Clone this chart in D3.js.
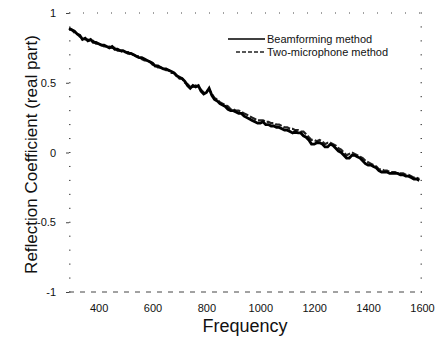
<!DOCTYPE html>
<html>
<head>
<meta charset="utf-8">
<script src="https://cdn.jsdelivr.net/npm/d3@7"></script>
<style>
  body { margin: 0; background: #fff; }
  svg { display: block; }
</style>
</head>
<body>
<div id="chart"></div>
<script>
// DATA (frequency sampled every 10 Hz, 290..1590)
var freq = d3.range(290, 1600, 10);
var beamforming = [0.89, 0.88, 0.87, 0.85, 0.84, 0.81, 0.82, 0.80, 0.81, 0.79,
  0.79, 0.78, 0.77, 0.77, 0.76, 0.75, 0.76, 0.74, 0.74, 0.73,
  0.73, 0.72, 0.71, 0.71, 0.70, 0.69, 0.68, 0.68, 0.67, 0.66,
  0.65, 0.64, 0.62, 0.62, 0.61, 0.60, 0.60, 0.59, 0.58, 0.57,
  0.55, 0.54, 0.53, 0.51, 0.48, 0.46, 0.48, 0.47, 0.48, 0.44,
  0.42, 0.43, 0.46, 0.41, 0.38, 0.37, 0.35, 0.34, 0.33, 0.31,
  0.30, 0.30, 0.29, 0.28, 0.28, 0.26, 0.25, 0.24, 0.23, 0.22,
  0.21, 0.21, 0.22, 0.20, 0.20, 0.19, 0.19, 0.18, 0.18, 0.17,
  0.16, 0.16, 0.15, 0.14, 0.15, 0.14, 0.14, 0.12, 0.11, 0.09,
  0.06, 0.06, 0.07, 0.07, 0.06, 0.04, 0.04, 0.06, 0.05, 0.03,
  0.01, 0.00, -0.02, -0.04, -0.04, -0.02, -0.02, -0.03, -0.04, -0.06,
  -0.08, -0.09, -0.09, -0.10, -0.11, -0.13, -0.14, -0.14, -0.14, -0.15,
  -0.15, -0.15, -0.15, -0.16, -0.16, -0.17, -0.17, -0.18, -0.19, -0.19,
  -0.20];
var twoMic = [0.88, 0.88, 0.86, 0.85, 0.83, 0.82, 0.81, 0.81, 0.80, 0.80,
  0.78, 0.78, 0.77, 0.76, 0.76, 0.76, 0.75, 0.75, 0.73, 0.73,
  0.72, 0.72, 0.72, 0.70, 0.70, 0.69, 0.69, 0.67, 0.66, 0.66,
  0.65, 0.63, 0.63, 0.61, 0.61, 0.60, 0.59, 0.59, 0.57, 0.57,
  0.55, 0.53, 0.53, 0.50, 0.49, 0.47, 0.47, 0.48, 0.47, 0.45,
  0.43, 0.44, 0.45, 0.42, 0.39, 0.38, 0.36, 0.35, 0.34, 0.33,
  0.31, 0.31, 0.30, 0.30, 0.29, 0.28, 0.27, 0.26, 0.25, 0.24,
  0.23, 0.23, 0.23, 0.22, 0.22, 0.21, 0.21, 0.20, 0.20, 0.19,
  0.18, 0.18, 0.17, 0.17, 0.16, 0.16, 0.15, 0.15, 0.13, 0.11,
  0.09, 0.09, 0.08, 0.09, 0.08, 0.06, 0.07, 0.07, 0.06, 0.05,
  0.03, 0.02, 0.00, -0.02, -0.01, 0.00, -0.01, -0.02, -0.03, -0.04,
  -0.06, -0.07, -0.08, -0.09, -0.10, -0.12, -0.12, -0.13, -0.13, -0.14,
  -0.14, -0.14, -0.15, -0.15, -0.15, -0.16, -0.16, -0.17, -0.18, -0.18,
  -0.19];
var xTicks = [400, 600, 800, 1000, 1200, 1400, 1600];
var yTicks = [-1, -0.5, 0, 0.5, 1];
var seriesNames = ["Beamforming method", "Two-microphone method"];

var fontFamily = "Arial, 'Liberation Sans', sans-serif";
var W = 438, H = 340;
var m = {left: 69, right: 16, top: 13, bottom: 48};

var svg = d3.select("#chart").append("svg")
  .attr("width", W).attr("height", H);

var x = d3.scaleLinear().domain([290, 1600]).range([m.left, W - m.right]);
var y = d3.scaleLinear().domain([-1, 1]).range([H - m.bottom, m.top]);

// frame (scanned look: dotted / dashed)
var frame = svg.append("g").attr("stroke", "#444").attr("fill", "none");
frame.append("line")
  .attr("x1", x(290)).attr("x2", x(1600)).attr("y1", y(1)).attr("y2", y(1))
  .attr("stroke-dasharray", "1,13");
frame.append("line")
  .attr("x1", x(290)).attr("x2", x(1600)).attr("y1", y(-1)).attr("y2", y(-1))
  .attr("stroke-dasharray", "5,6");

// minor dots on left/right
var minor = d3.range(-10, 11).map(function(d) { return d / 10; });
frame.selectAll(".ldot").data(minor).enter().append("line")
  .attr("x1", x(290)).attr("x2", x(290) + 1.5)
  .attr("y1", function(d) { return y(d); }).attr("y2", function(d) { return y(d); });
frame.selectAll(".rdot").data(minor).enter().append("line")
  .attr("x1", x(1600) - 1.5).attr("x2", x(1600))
  .attr("y1", function(d) { return y(d); }).attr("y2", function(d) { return y(d); });

// axes
var xAxis = svg.append("g")
  .attr("transform", `translate(0,${y(-1)})`)
  .call(d3.axisBottom(x).tickValues(xTicks).tickSize(0).tickPadding(12)
    .tickFormat(d3.format("d")));
xAxis.select(".domain").remove();
xAxis.selectAll("text")
  .attr("font-family", fontFamily).attr("font-size", 11).attr("fill", "#111");

var yAxis = svg.append("g")
  .attr("transform", `translate(${x(290)},0)`)
  .call(d3.axisLeft(y).tickValues(yTicks).tickSize(3).tickPadding(10)
    .tickFormat(function(d) { return String(d); }));
yAxis.select(".domain").remove();
yAxis.selectAll("line").attr("stroke", "#444");
yAxis.selectAll("text")
  .attr("font-family", fontFamily).attr("font-size", 11).attr("fill", "#111");

// titles
svg.append("text")
  .attr("transform", `translate(37,${(y(1) + y(-1)) / 2 + 2}) rotate(-90)`)
  .attr("text-anchor", "middle")
  .attr("font-family", fontFamily).attr("font-size", 17).attr("fill", "#111")
  .text("Reflection Coefficient (real part)");
svg.append("text")
  .attr("x", 245).attr("y", 332)
  .attr("text-anchor", "middle")
  .attr("font-family", fontFamily).attr("font-size", 18).attr("fill", "#111")
  .text("Frequency");

// lines
var line = d3.line()
  .x(function(d) { return x(d[0]); })
  .y(function(d) { return y(d[1]); });

svg.append("path")
  .datum(d3.zip(freq, twoMic))
  .attr("d", line)
  .attr("fill", "none").attr("stroke", "#222").attr("stroke-width", 2.2)
  .attr("stroke-dasharray", "7,2");
svg.append("path")
  .datum(d3.zip(freq, beamforming))
  .attr("d", line)
  .attr("fill", "none").attr("stroke", "#000").attr("stroke-width", 2.8);

// legend
var lg = svg.append("g").attr("font-family", fontFamily).attr("font-size", 11);
lg.append("line").attr("x1", 228).attr("x2", 265).attr("y1", 39).attr("y2", 39)
  .attr("stroke", "#000").attr("stroke-width", 1.5);
lg.append("line").attr("x1", 236).attr("x2", 265).attr("y1", 52).attr("y2", 52)
  .attr("stroke", "#222").attr("stroke-width", 1.5).attr("stroke-dasharray", "4,2");
lg.selectAll("text").data(seriesNames).enter().append("text")
  .attr("x", 267).attr("y", function(d, i) { return 43 + i * 13; })
  .attr("fill", "#111")
  .text(function(d) { return d; });
</script>
</body>
</html>
